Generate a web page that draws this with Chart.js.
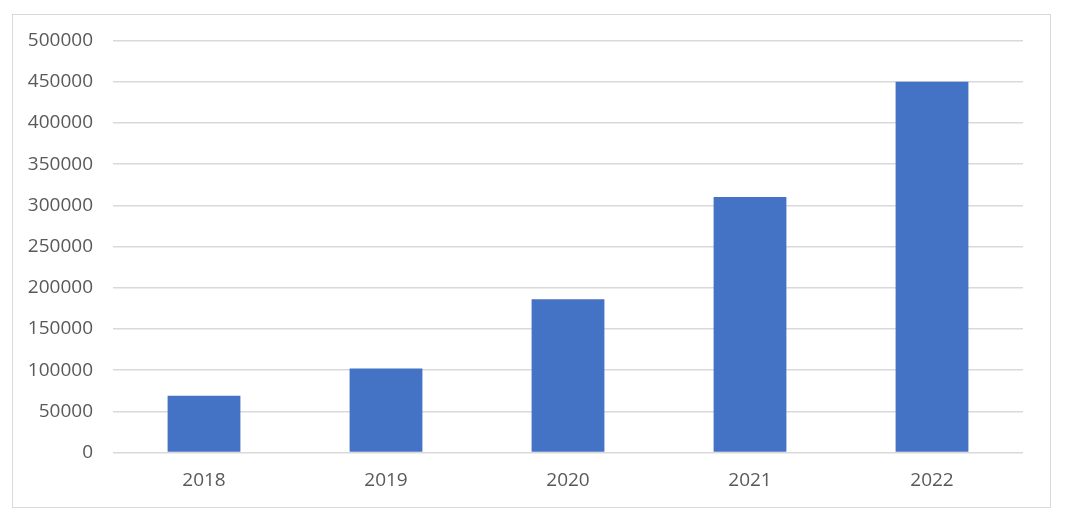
<!DOCTYPE html>
<html>
<head>
<meta charset="utf-8">
<script src="https://cdn.jsdelivr.net/npm/chart.js@4"></script>
<style>
  html, body { margin: 0; padding: 0; background: #fff; }
  #frame {
    position: absolute; left: 12px; top: 14px;
    width: 1037px; height: 492px;
    border: 1px solid #d9d9d9;
  }
  #wrap { position: absolute; left: 0; top: 0; width: 1066px; height: 524px; }
</style>
</head>
<body>
<div id="frame"></div>
<div id="wrap"><canvas id="myChart" width="1066" height="524"></canvas></div>
<script>
// categories and values
var years = ['2018', '2019', '2020', '2021', '2022'];
var amounts = [69000, 102000, 186000, 310000, 450000];
var yTicks = [0, 50000, 100000, 150000, 200000, 250000, 300000, 350000, 400000, 450000, 500000];

var ctx = document.getElementById('myChart').getContext('2d');

var labelFont = { family: '"Open Sans", "Noto Sans", sans-serif', size: 19 };

new Chart(ctx, {
  type: 'bar',
  data: {
    labels: years,
    datasets: [{
      label: 'Amount',
      data: amounts,
      backgroundColor: '#4472C4',
      barPercentage: 0.4,
      categoryPercentage: 1.0
    }]
  },
  options: {
    responsive: false,
    animation: false,
    layout: { padding: { top: 40.5, right: 43, left: 0, bottom: 0 } },
    plugins: {
      legend: { display: false },
      tooltip: { enabled: false }
    },
    scales: {
      x: {
        grid: { display: false, drawTicks: false },
        border: { display: false },
        ticks: { color: '#595959', font: labelFont, padding: 17 },
        afterFit: function(scale) { scale.height = 71.5; }
      },
      y: {
        min: 0,
        max: 500000,
        grid: { color: '#d9d9d9', lineWidth: 1.6, drawTicks: false },
        border: { display: false },
        afterBuildTicks: function(scale) {
          scale.ticks = yTicks.map(function(v) { return { value: v }; });
        },
        ticks: {
          color: '#595959',
          font: labelFont,
          padding: 20,
          callback: function(v) { return String(v); }
        },
        afterFit: function(scale) { scale.width = 113; }
      }
    }
  }
});
</script>
</body>
</html>
